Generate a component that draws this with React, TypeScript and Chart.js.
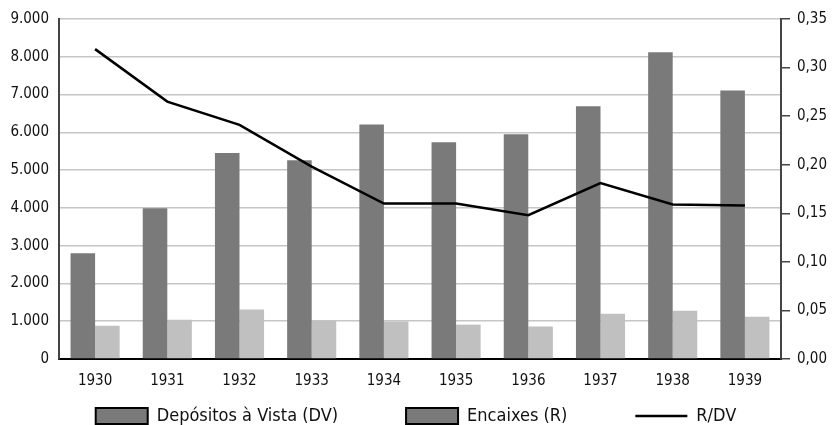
import React, { useEffect, useRef } from "react";
import { Chart, registerables } from "chart.js";

Chart.register(...registerables);

const years = ["1930", "1931", "1932", "1933", "1934", "1935", "1936", "1937", "1938", "1939"];
const depositosVista = [2800, 3990, 5450, 5260, 6210, 5740, 5950, 6690, 8120, 7110];
const encaixes = [880, 1040, 1310, 1010, 990, 910, 860, 1200, 1280, 1120];
const ratio = [0.319, 0.265, 0.241, 0.198, 0.16, 0.16, 0.148, 0.181, 0.159, 0.158];
const legendNames = ["Depósitos à Vista (DV)", "Encaixes (R)", "R/DV"];

const FONT = "'DejaVu Sans Condensed', 'DejaVu Sans', sans-serif";
const LEGEND_PAD = 68;
const LEGEND_TEXT_CENTER = 416;

const legendShift = {
  id: "legendShift",
  afterLayout(chart: any) {
    const lg = chart.legend;
    if (!lg) return;
    const itemH = 18;
    const newTop = LEGEND_TEXT_CENTER - LEGEND_PAD - itemH / 2;
    const dy = newTop - lg.top;
    lg.top += dy;
    lg.bottom = chart.height;
    lg.height = lg.bottom - lg.top;
    if (lg.legendHitBoxes) lg.legendHitBoxes.forEach((h: any) => (h.top += dy));
  },
};

export default function App() {
  const ref = useRef<HTMLCanvasElement | null>(null);

  useEffect(() => {
    document.body.style.margin = "0";
    const canvas = ref.current;
    if (!canvas) return;
    const chart = new Chart(canvas, {
      type: "bar",
      data: {
        labels: years,
        datasets: [
          {
            type: "line",
            label: legendNames[2],
            data: ratio,
            yAxisID: "y1",
            borderColor: "#000000",
            backgroundColor: "#000000",
            borderWidth: 2.5,
            pointRadius: 0,
            tension: 0,
            order: 0,
          } as any,
          {
            type: "bar",
            label: legendNames[0],
            data: depositosVista,
            yAxisID: "y",
            backgroundColor: "#7a7a7a",
            categoryPercentage: 0.68,
            barPercentage: 1,
            order: 1,
          },
          {
            type: "bar",
            label: legendNames[1],
            data: encaixes,
            yAxisID: "y",
            backgroundColor: "#c0c0c0",
            categoryPercentage: 0.68,
            barPercentage: 1,
            order: 1,
          },
        ],
      },
      plugins: [legendShift],
      options: {
        animation: false,
        responsive: true,
        maintainAspectRatio: false,
        layout: { padding: { top: 19, left: 0, right: 0, bottom: 0 } },
        plugins: {
          tooltip: { enabled: false },
          legend: {
            position: "bottom",
            maxHeight: 36,
            labels: {
              font: { family: FONT, size: 18 },
              color: "#111",
              usePointStyle: true,
              pointStyleWidth: 52,
              boxHeight: 16,
              padding: LEGEND_PAD,
              generateLabels: () => [
                {
                  text: legendNames[0],
                  fillStyle: "#7a7a7a",
                  strokeStyle: "#000",
                  lineWidth: 2,
                  pointStyle: "rect",
                  datasetIndex: 1,
                  hidden: false,
                  fontColor: "#111",
                } as any,
                {
                  text: legendNames[1],
                  fillStyle: "#7a7a7a",
                  strokeStyle: "#000",
                  lineWidth: 2,
                  pointStyle: "rect",
                  datasetIndex: 2,
                  hidden: false,
                  fontColor: "#111",
                } as any,
                {
                  text: legendNames[2],
                  fillStyle: "#000",
                  strokeStyle: "#000",
                  lineWidth: 2.5,
                  pointStyle: "line",
                  datasetIndex: 0,
                  hidden: false,
                  fontColor: "#111",
                } as any,
              ],
            },
          },
        },
        scales: {
          x: {
            grid: { display: false },
            border: { display: true, color: "#000", width: 2 },
            ticks: { font: { family: FONT, size: 15 }, color: "#111", padding: 5, maxRotation: 0 },
            afterFit: (s: any) => {
              s.height = 30;
            },
          },
          y: {
            position: "left",
            min: 0,
            max: 9000,
            ticks: {
              stepSize: 1000,
              font: { family: FONT, size: 15 },
              color: "#111",
              padding: 10,
              callback: (v: any) => Number(v).toLocaleString("de-DE"),
            },
            grid: { color: "#c6c6c6", lineWidth: 1.5, drawTicks: false },
            border: { display: true, color: "#444", width: 2 },
            afterFit: (s: any) => {
              s.width = 59;
            },
          },
          y1: {
            position: "right",
            min: 0,
            max: 0.35,
            ticks: {
              stepSize: 0.05,
              font: { family: FONT, size: 15 },
              color: "#111",
              padding: 7,
              callback: (v: any) => Number(v).toFixed(2).replace(".", ","),
            },
            grid: { drawOnChartArea: false, drawTicks: true, tickLength: 9, color: "#444", lineWidth: 1.5 },
            border: { display: true, color: "#444", width: 2 },
            afterFit: (s: any) => {
              s.width = 51;
            },
          },
        },
      },
    });
    return () => chart.destroy();
  }, []);

  return (
    <div style={{ width: "832px", height: "425px", position: "relative" }}>
      <canvas ref={ref} />
    </div>
  );
}
